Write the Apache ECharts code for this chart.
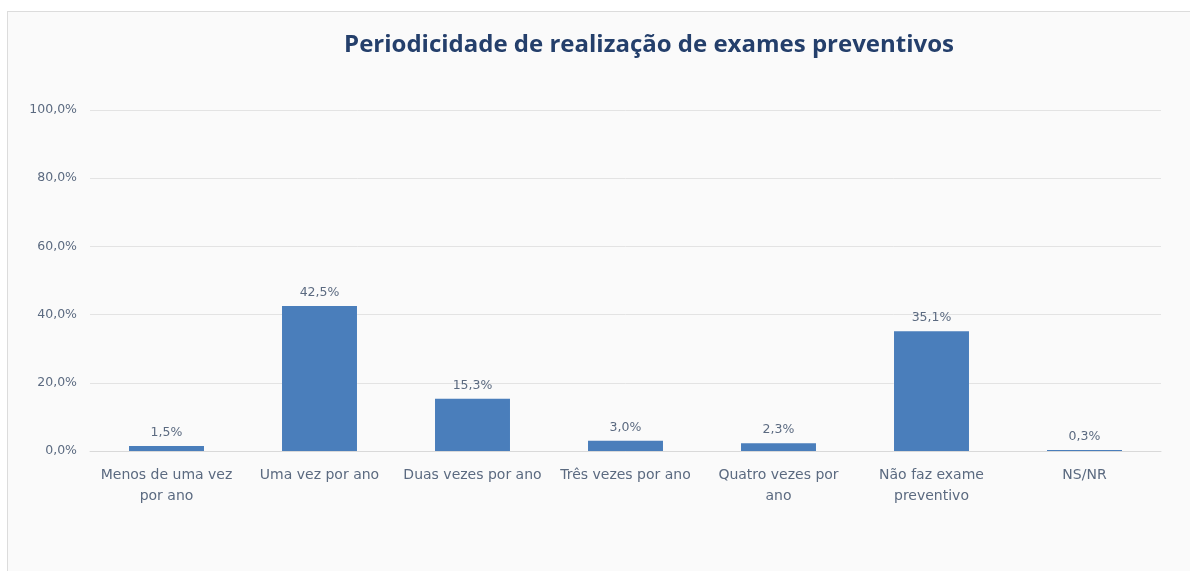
<!DOCTYPE html>
<html>
<head>
<meta charset="utf-8">
<script src="https://cdn.jsdelivr.net/npm/echarts@6/dist/echarts.min.js"></script>
<style>
  html, body { margin: 0; padding: 0; background: #ffffff; overflow: hidden; }
  #chart {
    position: absolute; left: 7px; top: 11px;
    width: 1183px; height: 560px;
    background: #fafafa;
    border-left: 1px solid #dcdcdc; border-top: 1px solid #dcdcdc;
  }
</style>
</head>
<body>
<div id="chart"></div>
<script>
const titleText = "Periodicidade de realização de exames preventivos";
const categories = [
  "Menos de uma vez\npor ano",
  "Uma vez por ano",
  "Duas vezes por ano",
  "Três vezes por ano",
  "Quatro vezes por\nano",
  "Não faz exame\npreventivo",
  "NS/NR"
];
const values = [1.5, 42.5, 15.3, 3.0, 2.3, 35.1, 0.3];

const pct = (v) => v.toFixed(1).replace(".", ",") + "%";
const labelFont = "'DejaVu Sans', sans-serif";

const chart = echarts.init(document.getElementById("chart"));
chart.setOption({
  backgroundColor: "#fafafa",
  animation: false,
  title: {
    text: titleText,
    left: 636,
    top: 16,
    textAlign: "center",
    textStyle: {
      fontFamily: "'Open Sans', sans-serif",
      fontSize: 24,
      fontWeight: "bold",
      color: "#243f6b"
    }
  },
  grid: { left: 82, right: 30, top: 98, bottom: 121 },
  xAxis: {
    type: "category",
    data: categories,
    axisLine: { lineStyle: { color: "#d9d9d9" } },
    axisTick: { show: false },
    axisLabel: {
      color: "#5b6a80",
      fontFamily: labelFont,
      fontSize: 14,
      lineHeight: 21,
      margin: 14,
      interval: 0
    }
  },
  yAxis: {
    type: "value",
    min: 0,
    max: 100,
    interval: 20,
    axisLine: { show: false },
    axisTick: { show: false },
    splitLine: { lineStyle: { color: "#e3e3e3" } },
    axisLabel: {
      color: "#5b6a80",
      fontFamily: labelFont,
      fontSize: 12.5,
      margin: 13,
      formatter: (v) => pct(v)
    }
  },
  series: [{
    type: "bar",
    data: values,
    barWidth: "49%",
    itemStyle: { color: "#4a7ebb" },
    label: {
      show: true,
      position: "top",
      distance: 7,
      color: "#5b6a80",
      fontFamily: labelFont,
      fontSize: 12.5,
      formatter: (p) => pct(p.value)
    }
  }]
});
</script>
</body>
</html>
